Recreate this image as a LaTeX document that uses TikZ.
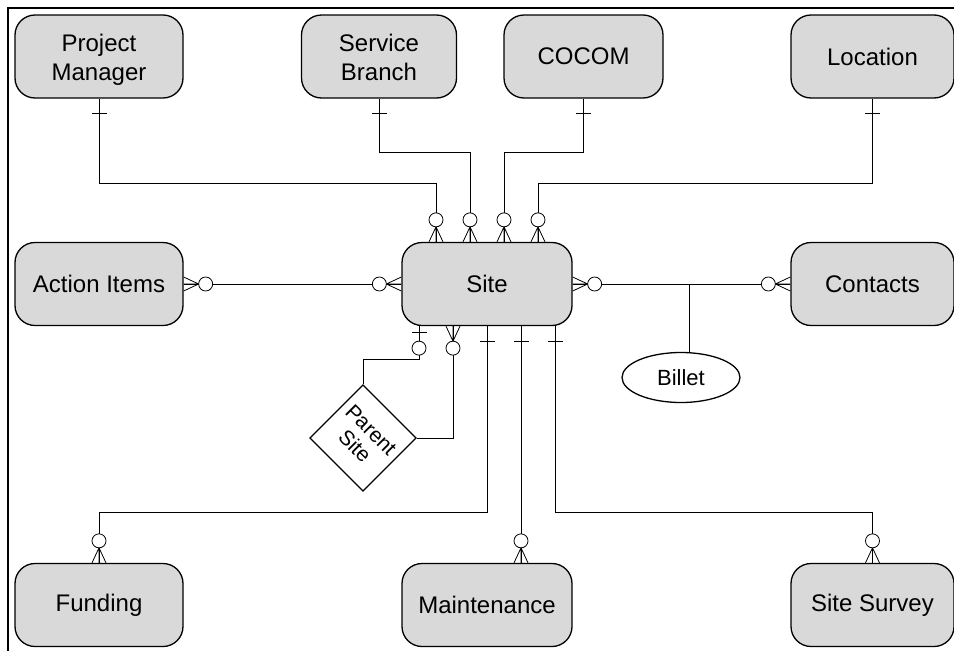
\documentclass[tikz,border=0pt]{standalone}
\usepackage{fontspec}
\setmainfont{Liberation Sans}
\usetikzlibrary{calc,shapes.geometric}

\definecolor{boxfill}{HTML}{D9D9D9}

% two-line entity label, set a little below the middle of its box
\newcommand{\twolines}[2]{\raisebox{-4pt}[\height][\depth]{\begin{tabular}{@{}c@{}}#1\\#2\end{tabular}}}

\tikzset{
  conn/.style={line width=0.8pt, draw=black},
  entity/.style={draw=black, line width=1.3pt, fill=boxfill, rounded corners=20pt,
    minimum height=83pt, align=center, inner sep=0pt,
    font=\fontsize{24}{29}\selectfont},
  % zero-or-many end: crow's foot with a ring
  zeromany/.pic={
    \draw[conn] (-7pt,0pt) -- (0pt,15pt) -- (7pt,0pt) (0pt,0pt) -- (0pt,15pt);
    \draw[conn, fill=white] (0pt,22pt) circle (7pt);
  },
  % exactly-one end: a single bar
  onebar/.pic={
    \draw[conn] (-7.5pt,15pt) -- (7.5pt,15pt);
  },
  % zero-or-one end: bar near the box and a ring
  zeroone/.pic={
    \draw[conn] (-7.5pt,6pt) -- (7.5pt,6pt);
    \draw[conn, fill=white] (0pt,22pt) circle (7pt);
  }
}

\begin{document}
\begin{tikzpicture}[x=1pt, y=-1pt]
  \useasboundingbox (0,0) rectangle (954,651);
  \clip (0,0) rectangle (954,651);

  % outer frame
  \draw[line width=1.6pt] (8,8) rectangle (970,670);

  % entities
  \node[entity, minimum width=168pt] (pm)  at (99,56.5)  {\twolines{Project}{Manager}};
  \node[entity, minimum width=155pt] (sb)  at (379,56.5) {\twolines{Service}{Branch}};
  \node[entity, minimum width=159pt] (cc)  at (583.5,56.5) {COCOM};
  \node[entity, minimum width=163pt] (loc) at (872.5,56.5) {Location};

  \node[entity, minimum width=168pt] (ai)   at (99,284)  {Action Items};
  \node[entity, minimum width=170pt] (site) at (487,284) {Site};
  \node[entity, minimum width=163pt] (ct)   at (872.5,284) {Contacts};

  \node[entity, minimum width=168pt] (fund) at (99,605)  {Funding};
  \node[entity, minimum width=170pt] (mnt)  at (487,605) {Maintenance};
  \node[entity, minimum width=163pt] (ss)   at (872.5,605) {Site Survey};

  \node[draw=black, line width=1.3pt, fill=white, ellipse, minimum width=118pt,
        minimum height=50pt, inner sep=0pt, font=\fontsize{22}{26}\selectfont]
        (billet) at (681,377.5) {Billet};

  \node[draw=black, line width=1.3pt, fill=white, rotate=-45, minimum size=75pt,
        inner sep=0pt, align=center, font=\fontsize{21}{23}\selectfont]
        (ps) at (363,438) {Parent\\Site};

  % attachment points on Site
  \coordinate (t1) at ([xshift=-51pt]site.north);
  \coordinate (t2) at ([xshift=-17pt]site.north);
  \coordinate (t3) at ([xshift=17pt]site.north);
  \coordinate (t4) at ([xshift=51pt]site.north);
  \coordinate (b1) at ([xshift=-68pt]site.south);
  \coordinate (b2) at ([xshift=-34pt]site.south);
  \coordinate (b3) at (site.south);
  \coordinate (b4) at ([xshift=34pt]site.south);
  \coordinate (b5) at ([xshift=68pt]site.south);
  \coordinate (bj) at ([xshift=202pt]site.center);
  \coordinate (m4) at (b4 |- mnt.north);

  % connectors
  \draw[conn] (pm.south)  -- ++(0,85) -| (t1);
  \draw[conn] (sb.south)  -- ++(0,54) -| (t2);
  \draw[conn] (cc.south)  -- ++(0,54) -| (t3);
  \draw[conn] (loc.south) -- ++(0,85) -| (t4);

  \draw[conn] (ai.east) -- (site.west);
  \draw[conn] (site.east) -- (ct.west);
  \draw[conn] (bj) -- (bj |- billet.north);

  \draw[conn] (b1) -- ++(0,33) -| (ps.north west);
  \draw[conn] (b2) |- (ps.north east);

  \draw[conn] (b3) -- ++(0,186) -| (fund.north);
  \draw[conn] (b4) -- (m4);
  \draw[conn] (b5) -- ++(0,186) -| (ss.north);

  % relationship ends
  \pic at (pm.south)  [rotate=180] {onebar};
  \pic at (sb.south)  [rotate=180] {onebar};
  \pic at (cc.south)  [rotate=180] {onebar};
  \pic at (loc.south) [rotate=180] {onebar};

  \pic at (t1) {zeromany};
  \pic at (t2) {zeromany};
  \pic at (t3) {zeromany};
  \pic at (t4) {zeromany};

  \pic at (ai.east)   [rotate=-90] {zeromany};
  \pic at (site.west) [rotate=90]  {zeromany};
  \pic at (site.east) [rotate=-90] {zeromany};
  \pic at (ct.west)   [rotate=90]  {zeromany};

  \pic at (b1) [rotate=180] {zeroone};
  \pic at (b2) [rotate=180] {zeromany};
  \pic at (b3) [rotate=180] {onebar};
  \pic at (b4) [rotate=180] {onebar};
  \pic at (b5) [rotate=180] {onebar};

  \pic at (fund.north) {zeromany};
  \pic at (m4)         {zeromany};
  \pic at (ss.north)   {zeromany};
\end{tikzpicture}
\end{document}
